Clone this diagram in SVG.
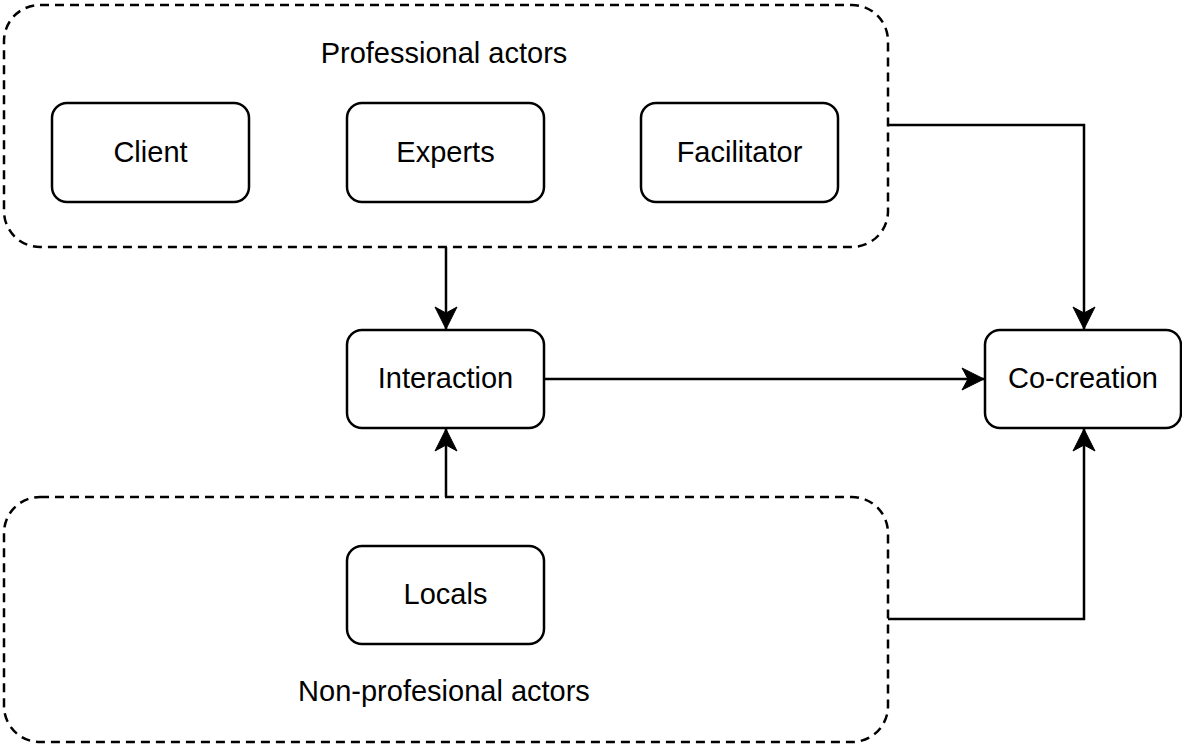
<svg xmlns="http://www.w3.org/2000/svg" width="1182" height="747" viewBox="0 0 1182 747">
<defs>
<style>
.grp{fill:#fff;stroke:#000;stroke-width:2.5;stroke-dasharray:9 6}
.node{fill:#fff;stroke:#000;stroke-width:2.5}
.lbl{font-family:"Liberation Sans",Arial,sans-serif;font-size:29px;fill:#000;text-anchor:middle;dominant-baseline:central}
.edge{fill:none;stroke:#000;stroke-width:2.5}
</style>
<marker id="ah" markerUnits="userSpaceOnUse" markerWidth="24" markerHeight="24" viewBox="0 0 24 24" refX="23" refY="12" orient="auto">
<path d="M1,1 L23,12 L1,23 L7,12 Z" fill="#000" stroke="#000" stroke-width="1"/>
</marker>
</defs>
<rect width="1182" height="747" fill="#fff"/>
<g id="professional-actors">
<rect class="grp" x="4" y="5" width="884" height="242" rx="36"/>
<text class="lbl" x="444" y="53">Professional actors</text>
</g>
<g id="non-professional-actors">
<rect class="grp" x="4" y="497" width="884" height="245" rx="36"/>
<text class="lbl" x="444" y="691">Non-profesional actors</text>
</g>
<g id="client">
<rect class="node" x="52" y="103" width="197" height="99" rx="15"/>
<text class="lbl" x="150.5" y="152">Client</text>
</g>
<g id="experts">
<rect class="node" x="347" y="103" width="197" height="99" rx="15"/>
<text class="lbl" x="445.5" y="152">Experts</text>
</g>
<g id="facilitator">
<rect class="node" x="641" y="103" width="197" height="99" rx="15"/>
<text class="lbl" x="739.5" y="152">Facilitator</text>
</g>
<g id="interaction">
<rect class="node" x="347" y="330" width="197" height="98" rx="15"/>
<text class="lbl" x="445.5" y="378">Interaction</text>
</g>
<g id="co-creation">
<rect class="node" x="985" y="330" width="196" height="98" rx="15"/>
<text class="lbl" x="1083" y="378">Co-creation</text>
</g>
<g id="locals">
<rect class="node" x="347" y="546" width="197" height="98" rx="15"/>
<text class="lbl" x="445.5" y="594">Locals</text>
</g>
<g id="connectors">
<path class="edge" d="M446,247 L446,329" marker-end="url(#ah)"/>
<path class="edge" d="M446,497 L446,429" marker-end="url(#ah)"/>
<path class="edge" d="M544,379 L984,379" marker-end="url(#ah)"/>
<path class="edge" d="M888,125 L1084,125 L1084,329" marker-end="url(#ah)"/>
<path class="edge" d="M888,619 L1084,619 L1084,429" marker-end="url(#ah)"/>
</g>
</svg>
